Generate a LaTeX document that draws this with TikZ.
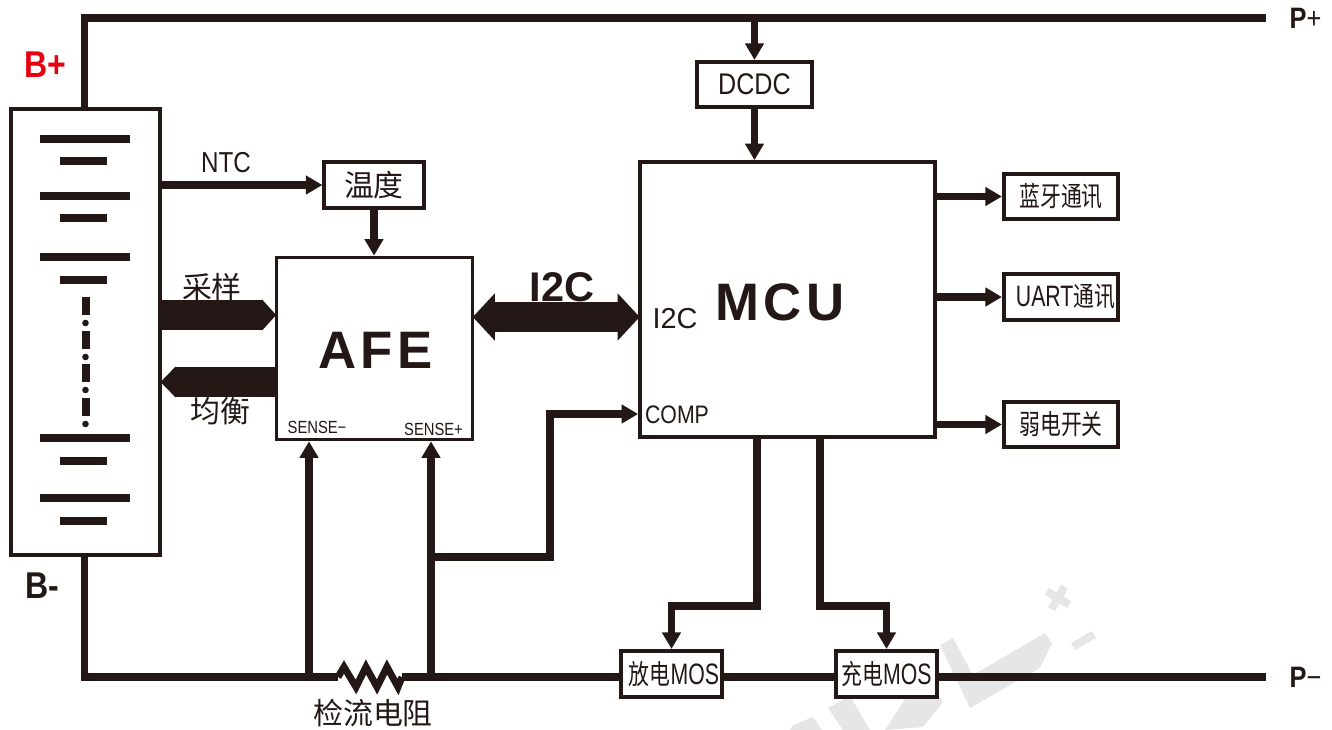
\documentclass[tikz,border=0pt]{standalone}
\usepackage{fontspec}
\setmainfont{Liberation Sans}
\newfontfamily\cjk{Noto Sans CJK SC}
\newfontfamily\cjknar[FakeStretch=.76]{Noto Sans CJK SC}
\newfontfamily\latmid[FakeStretch=.84]{Liberation Sans}
\newfontfamily\latnar[FakeStretch=.72]{Liberation Sans}
\newfontfamily\pinfont[FakeStretch=.86]{Liberation Sans}
\newfontfamily\headfont[LetterSpace=8]{Liberation Sans}
\usetikzlibrary{arrows.meta}
\definecolor{ink}{HTML}{231815}
\definecolor{wmgray}{HTML}{E6E6E6}
\definecolor{pinred}{HTML}{E60012}
\tikzset{
    block/.style = {draw = ink, line width = .4mm, fill = white, inner sep = 0pt, text = ink},
    rail/.style = {draw = ink, line width = .75mm},
    link/.style = {rail, -{Triangle[length = 1.65mm, width = 1.8mm]}},
    fat/.style = {draw = ink, line width = 3mm, shorten > = -.15mm, -{Triangle[length = 1.4mm, width = 3mm]}},
    bus/.style = {draw = ink, line width = 3mm, shorten < = -.15mm, shorten > = -.15mm, {Triangle[length = 2.2mm, width = 4.6mm]}-{Triangle[length = 2.2mm, width = 4.6mm]}},
    plate/.style = {draw = ink, line width = .8mm},
    lab/.style = {inner sep = 0pt, anchor = base, text = ink},
    cjklab/.style = {inner sep = 0pt, text = ink, font = \fontsize{8.5}{10}\cjk},
    smalllab/.style = {lab, font = \fontsize{5}{6}\latmid},
    midlab/.style = {lab, font = \fontsize{8.2}{10}\latmid},
    boxfont/.style = {font = \fontsize{7.8}{10}\cjknar},
    pinlab/.style = {lab, font = \fontsize{10.6}{12}\pinfont\bfseries}
}
\begin{document}
\begin{tikzpicture}[x = .01cm, y = -.01cm]
    \useasboundingbox (0,0) rectangle (1332,730);

    \fill[wmgray] (940,645) -- (953,638) -- (973,675) -- (1028,643) -- (1045,633) -- (1052,643) -- (1040,668) -- (970,708) -- cycle;
    \fill[wmgray, rotate around = {-30:(1058,598)}] (1045,594) rectangle (1071,602) (1054,585) rectangle (1062,611);
    \fill[wmgray] (1071,643) -- (1092,631) -- (1096,638) -- (1075,650) -- cycle;
    \fill[wmgray] (828,708) -- (850,696) -- (870,730) -- (843,730) -- cycle;
    \fill[wmgray] (885,730) -- (923,727) -- (943,702) -- (935,690) -- (905,699) -- cycle;
    \fill[wmgray] (793,725) -- (813,717) -- (822,730) -- (790,730) -- cycle;

    \node[block, minimum width = 1.49cm, minimum height = 4.46cm] (batt) at (85.5,332) {};
    \node[block, minimum width = 1.96cm, minimum height = 1.82cm, line width = .35mm] (afe) at (374.5,348.5) {};
    \node[block, minimum width = 2.95cm, minimum height = 2.75cm, line width = .35mm] (mcu) at (787.5,299.5) {};
    \node[block, minimum width = .99cm, minimum height = .46cm] (temp) at (374,185) {\fontsize{8.5}{10}\cjk 温度};
    \node[block, minimum width = 1.15cm, minimum height = .45cm] (dcdc) at (754.5,84.5) {\fontsize{8.5}{10}\latmid DCDC};
    \node[block, minimum width = 1.14cm, minimum height = .45cm, boxfont] (blue) at (1061,196.5) {蓝牙通讯};
    \node[block, minimum width = 1.14cm, minimum height = .45cm] (uart) at (1061,297) {\hspace{.09cm}\fontsize{8.4}{10}\latnar UART\fontsize{7.8}{10}\cjknar 通讯};
    \node[block, minimum width = 1.14cm, minimum height = .45cm, boxfont] (weak) at (1061,424.5) {弱电开关\hspace{.08cm}};
    \node[block, minimum width = 1.01cm, minimum height = .46cm] (dismos) at (671.5,674) {\hspace{.05cm}\fontsize{7.8}{10}\cjknar 放电\fontsize{8.4}{10}\latnar MOS};
    \node[block, minimum width = 1.01cm, minimum height = .46cm] (chgmos) at (886.5,674) {\fontsize{7.8}{10}\cjknar 充电\fontsize{8.4}{10}\latnar MOS};

    \foreach \py in {139,196,257,438,498}
        \draw[plate] (40,\py) -- (129.5,\py);
    \foreach \py in {161,218,280,461,521}
        \draw[plate] (60,\py) -- (107,\py);
    \foreach \py in {297,331,364,398} {
        \fill[ink] (82,\py) rectangle (89.5,\py+18);
        \fill[ink] (85.5,\py+26) circle (.33mm);
    }

    \coordinate (railx) at (84.5,0);
    \coordinate (pplus) at (1266,18);
    \coordinate (pminus) at (1266,677);
    \coordinate (rsl) at (338,677);
    \coordinate (rsr) at (402,677);
    \coordinate (tapn) at (309,677);
    \coordinate (tapp) at (431,677);
    \coordinate (tapc) at (431,557);
    \coordinate (bendc) at (550,414);
    \coordinate (samp) at (160,315);
    \coordinate (bal) at (277,382);
    \coordinate (busy) at (470,317);
    \coordinate (dropd) at (757,606);
    \coordinate (dropc) at (820,606);

    \draw[rail] (railx |- batt.north) |- (pplus);
    \draw[rail] (railx |- batt.south) |- (rsl);
    \draw[rail, line width = .7mm] (rsl) -- (344,667) -- (356,687) -- (366,667) -- (377,687) -- (387,667) -- (398,687) -- (rsr);
    \draw[rail] (rsr) -- (dismos.west |- rsr);
    \draw[rail] (dismos.east |- rsr) -- (chgmos.west |- rsr);
    \draw[rail] (chgmos.east |- pminus) -- (pminus);

    \draw[link] (dcdc.north |- pplus) -- (dcdc.north);
    \draw[link] (dcdc.south) -- (dcdc.south |- mcu.north);
    \draw[link] (batt.east |- temp.west) -- (temp.west);
    \draw[link] (temp.south) -- (temp.south |- afe.north);
    \draw[fat] (batt.east |- samp) -- (afe.west |- samp);
    \draw[fat, -{Triangle[length = 1.5mm, width = 3mm]}] (bal) -- (batt.east |- bal);
    \draw[bus] (afe.east |- busy) -- (mcu.west |- busy);
    \draw[link] (tapn) -- (tapn |- afe.south);
    \draw[link] (tapp) -- (tapp |- afe.south);
    \draw[link] (tapc) -| (bendc) -- (mcu.west |- bendc);
    \draw[link] (mcu.east |- blue.west) -- (blue.west);
    \draw[link] (mcu.east |- uart.west) -- (uart.west);
    \draw[link] (mcu.east |- weak.west) -- (weak.west);
    \draw[link] (dropd |- mcu.south) -- (dropd) -| (dismos.north);
    \draw[link] (dropc |- mcu.south) -- (dropc) -| (chgmos.north);

    \node[midlab] (ntclab) at (226,172) {NTC};
    \node[cjklab] (samplab) at (212,287) {采样};
    \node[cjklab] (ballab) at (220,411) {均衡};
    \node[lab, font = \fontsize{15}{18}\headfont\bfseries] (afelab) at (375.5,368) {AFE};
    \node[lab, font = \fontsize{15}{18}\headfont\bfseries] (mculab) at (780,320) {MCU};
    \node[lab, font = \fontsize{11.8}{14}\bfseries] (buslab) at (562,301) {I2C};
    \node[lab, font = \fontsize{8.2}{10}\selectfont] (i2clab) at (675,328) {I2C};
    \node[lab, font = \fontsize{7.2}{10}\latmid] (complab) at (677,423) {COMP};
    \node[smalllab] (snlab) at (317,433) {SENSE−};
    \node[smalllab] (splab) at (433.5,435) {SENSE+};
    \node[cjklab] (shuntlab) at (373,713) {检流电阻};
    \node[pinlab, text = pinred] (bplab) at (45.5,77) {B+};
    \node[pinlab] (bmlab) at (42,598) {B-};
    \node[lab, font = \fontsize{8.4}{10}\pinfont] (pplab) at (1305.5,28) {\bfseries P\mdseries +};
    \node[lab, font = \fontsize{8.4}{10}\pinfont] (pmlab) at (1305.5,687) {\bfseries P\mdseries −};
\end{tikzpicture}
\end{document}
